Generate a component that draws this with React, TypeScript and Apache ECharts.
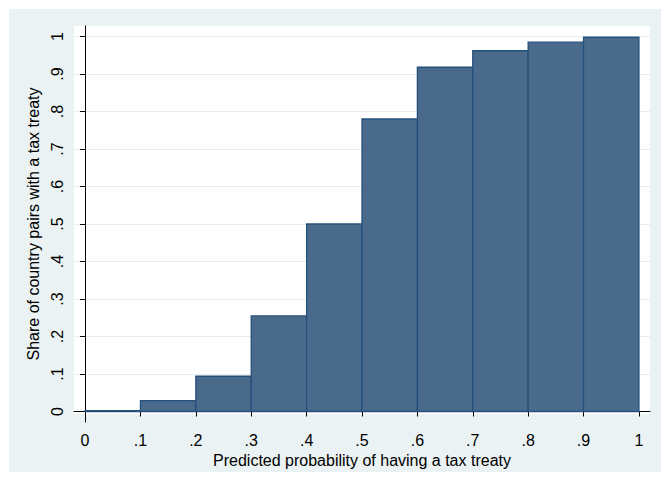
import React, { useEffect, useRef } from "react";
import * as echarts from "echarts";

const binStarts = [0, 0.1, 0.2, 0.3, 0.4, 0.5, 0.6, 0.7, 0.8, 0.9];
const binEnds = [0.1, 0.2, 0.3, 0.4, 0.5, 0.6, 0.7, 0.8, 0.9, 1.0];
const shares = [0.002, 0.029, 0.094, 0.255, 0.5, 0.78, 0.918, 0.962, 0.985, 0.998];
const xTicks = [0, 0.1, 0.2, 0.3, 0.4, 0.5, 0.6, 0.7, 0.8, 0.9, 1];
const yTicks = [0, 0.1, 0.2, 0.3, 0.4, 0.5, 0.6, 0.7, 0.8, 0.9, 1];
const xTitle = "Predicted probability of having a tax treaty";
const yTitle = "Share of country pairs with a tax treaty";

const fmt = (v: number) => {
  const r = Math.round(v * 10) / 10;
  if (r === 0) return "0";
  if (r === 1) return "1";
  return "." + Math.round(r * 10);
};

export default function App() {
  const ref = useRef<HTMLDivElement>(null);
  useEffect(() => {
    if (!ref.current) return;
    const chart = echarts.init(ref.current, null, { renderer: "svg" });
    const font = "'Liberation Sans', Arial, Helvetica, sans-serif";
    const data = binStarts.map((s, i) => [s, binEnds[i], shares[i]]);
    chart.setOption({
      animation: false,
      backgroundColor: "#ffffff",
      textStyle: { fontFamily: font },
      graphic: [
        {
          type: "rect",
          z: -10,
          silent: true,
          shape: { x: 9, y: 9, width: 652, height: 463 },
          style: { fill: "#eaf2f3" },
        },
        {
          type: "rect",
          z: -9,
          silent: true,
          shape: { x: 74, y: 26, width: 576, height: 388 },
          style: { fill: "#ffffff" },
        },
      ],
      grid: { left: 74, right: 11, top: 26, bottom: 59, containLabel: false },
      xAxis: {
        type: "value",
        min: -0.02,
        max: 1.02,
        name: xTitle,
        nameLocation: "middle",
        nameGap: 25,
        nameTextStyle: { fontSize: 16, color: "#000", fontFamily: font },
        axisLine: { show: true, lineStyle: { color: "#000", width: 1 } },
        axisTick: {
          show: true,
          length: 5,
          customValues: xTicks,
          lineStyle: { color: "#000", width: 1 },
        },
        axisLabel: {
          customValues: xTicks,
          formatter: (v: number) => fmt(v),
          fontSize: 16,
          color: "#000",
          margin: 10,
          fontFamily: font,
        },
        splitLine: { show: false },
      },
      yAxis: {
        type: "value",
        min: -0.028,
        max: 1.028,
        name: yTitle,
        nameLocation: "middle",
        nameGap: 28,
        nameRotate: 90,
        nameTextStyle: { fontSize: 16, color: "#000", fontFamily: font },
        axisLine: { show: true, lineStyle: { color: "#000", width: 1 } },
        axisTick: {
          show: true,
          length: 5,
          customValues: yTicks,
          lineStyle: { color: "#000", width: 1 },
        },
        axisLabel: {
          customValues: yTicks,
          formatter: (v: number) => fmt(v),
          fontSize: 16,
          color: "#000",
          rotate: 90,
          margin: 9,
          fontFamily: font,
        },
        splitLine: { show: true, lineStyle: { color: "#e6eef0", width: 1 } },
      },
      series: [
        {
          type: "custom",
          data,
          encode: { x: [0, 1], y: 2 },
          renderItem: (params: any, api: any) => {
            const x0 = api.value(0);
            const x1 = api.value(1);
            const v = api.value(2);
            const p0 = api.coord([x0, v]);
            const p1 = api.coord([x1, 0]);
            return {
              type: "rect",
              shape: { x: p0[0], y: p0[1], width: p1[0] - p0[0], height: p1[1] - p0[1] },
              style: { fill: "#4a6a8c", stroke: "#24507c", lineWidth: 1.3 },
            };
          },
        },
      ],
    });
    return () => chart.dispose();
  }, []);
  return (
    <div
      ref={ref}
      style={{ position: "absolute", left: 0, top: 0, width: 661, height: 481 }}
    />
  );
}
